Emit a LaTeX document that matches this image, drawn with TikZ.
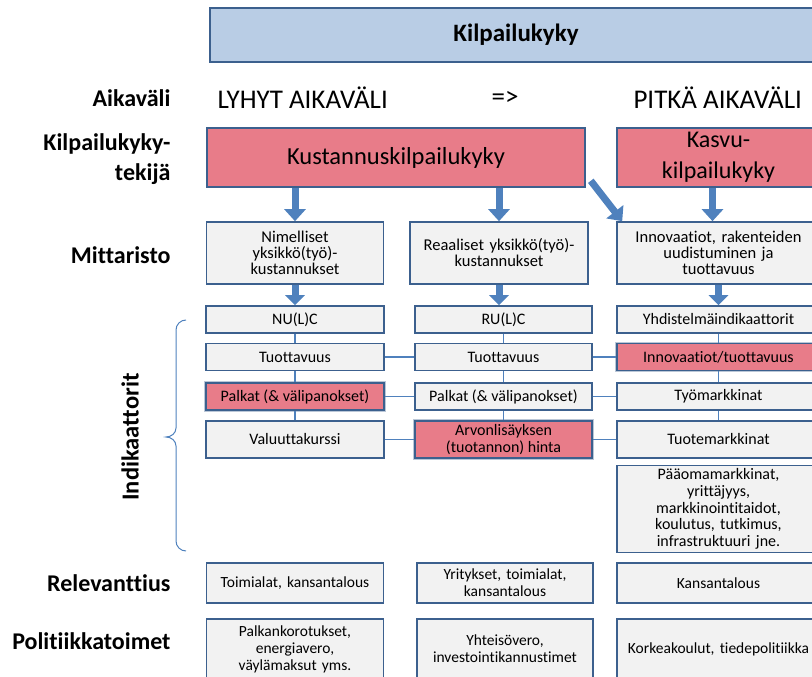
\documentclass[tikz,border=0pt]{standalone}
\usepackage{fontspec}
\setmainfont{Carlito}[Ligatures={TeX,NoCommon}]
\usetikzlibrary{arrows.meta, positioning}
\definecolor{kilpblue}{RGB}{185,205,229}
\definecolor{kilpborder}{RGB}{60,96,142}
\definecolor{kilppink}{RGB}{232,124,137}
\definecolor{kilpgray}{RGB}{242,242,242}
\definecolor{kilpline}{RGB}{79,129,189}

\begin{document}
\begin{tikzpicture}[x=1pt, y=-1pt,
        box/.style={rectangle, draw=kilpborder, line width=1.6pt, fill=kilpgray, align=center, inner sep=2pt, font=\fontsize{16}{17}\selectfont},
        hot/.style={box, fill=kilppink},
        hotrow/.style={hot, preaction={draw=kilpborder!35, line width=3.6pt}},
        small/.style={font=\fontsize{15.5}{17}\selectfont},
        rowlabel/.style={anchor=east, align=right, font=\bfseries\fontsize{24}{30}\selectfont},
        period/.style={font=\fontsize{27}{30}\selectfont},
        link/.style={draw=kilpline, line width=1.8pt},
        bigarrow/.style={draw=kilpline, line width=7pt, -{Triangle[width=21pt,length=12pt]}},
        smallarrow/.style={draw=kilpline, line width=7pt, -{Triangle[width=19pt,length=10pt]}}
    ]
        \useasboundingbox (0,0) rectangle (812,677);
        \clip (0,0) rectangle (812,677);

        % otsikko ja aikavali
        \node[box, fill=kilpblue, minimum width=612pt, minimum height=54pt, font=\bfseries\fontsize{25}{30}\selectfont] (kilp) at (516,35) {Kilpailukyky};
        \node[rowlabel] (aika) at (174,98) {Aikaväli};
        \node[period, anchor=west] (lyhyt) at (214,98) {LYHYT AIKAVÄLI};
        \node[period] (nuoli) at (505,98) {=>};
        \node[period, anchor=west] (pitka) at (630,98) {PITKÄ AIKAVÄLI};

        % tekijat
        \node[rowlabel] (tekija) at (174,159) {Kilpailukyky-\\tekijä};
        \node[hot, minimum width=378pt, minimum height=59pt, font=\fontsize{24.5}{30}\selectfont] (kust) at (396,157.5) {Kustannuskilpailukyky};
        \node[hot, minimum width=203pt, minimum height=59pt, font=\fontsize{24}{31}\selectfont] (kasvu) at (718.5,157.5) {Kasvu-\\kilpailukyky};

        % mittaristo
        \node[rowlabel] (mitt) at (174,255) {Mittaristo};
        \node[box, minimum width=177pt, minimum height=62pt, text width=170pt, font=\fontsize{16.5}{16}\selectfont] (mit1) at (295,253) {Nimelliset\\yksikkö(työ)-\\kustannukset};
        \node[box, minimum width=178pt, minimum height=62pt, text width=172pt, font=\fontsize{16.5}{16}\selectfont] (mit2) at (499,253) {Reaaliset yksikkö(työ)-\\kustannukset};
        \node[box, minimum width=203pt, minimum height=62pt, text width=198pt, font=\fontsize{16.5}{16}\selectfont] (mit3) at (718.5,253) {Innovaatiot, rakenteiden\\uudistuminen ja\\tuottavuus};

        \draw[bigarrow] (kust.south -| mit1.north) -- (mit1.north);
        \draw[bigarrow] (kust.south -| mit2.north) -- (mit2.north);
        \draw[bigarrow] ([xshift=-6pt]kasvu.south) -- ([xshift=-6pt]mit3.north);
        \draw[bigarrow] ([shift={(5pt,7pt)}]kust.south east) -- ([xshift=6pt]mit3.north west);

        % indikaattorit
        \node[box, minimum width=178pt, minimum height=27pt] (nul1) at (295,319.5) {NU(L)C};
        \node[box, minimum width=177pt, minimum height=27pt] (nul2) at (503.5,319.5) {RU(L)C};
        \node[box, minimum width=203pt, minimum height=27pt] (nul3) at (718.5,319.5) {Yhdistelmäindikaattorit};
        \draw[smallarrow] (mit1.south) -- (mit1.south |- nul1.north);
        \draw[smallarrow] (mit2.south) -- (mit2.south |- nul2.north);
        \draw[smallarrow] (mit3.south) -- (mit3.south |- nul3.north);

        \node[box, minimum width=178pt, minimum height=27pt] (tu1) at (295,357) {Tuottavuus};
        \node[box, minimum width=177pt, minimum height=27pt] (tu2) at (503.5,357) {Tuottavuus};
        \node[hotrow, minimum width=203pt, minimum height=27pt] (tu3) at (718.5,357) {Innovaatiot/tuottavuus};

        \node[hotrow, minimum width=178pt, minimum height=27pt] (pa1) at (295,396.5) {Palkat (\& välipanokset)};
        \node[box, minimum width=177pt, minimum height=27pt] (pa2) at (503.5,396.5) {Palkat (\& välipanokset)};
        \node[box, minimum width=203pt, minimum height=27pt] (pa3) at (718.5,396.5) {Työmarkkinat};

        \node[box, minimum width=178pt, minimum height=37pt] (va1) at (295,439.5) {Valuuttakurssi};
        \node[hotrow, minimum width=177pt, minimum height=37pt] (va2) at (503.5,439.5) {Arvonlisäyksen\\(tuotannon) hinta};
        \node[box, minimum width=203pt, minimum height=37pt] (va3) at (718.5,439.5) {Tuotemarkkinat};

        \node[box, minimum width=203pt, minimum height=87pt, text width=196pt, font=\fontsize{16}{16.7}\selectfont] (paa) at (718.5,509) {Pääomamarkkinat,\\yrittäjyys,\\markkinointitaidot,\\koulutus, tutkimus,\\infrastruktuuri jne.};

        \draw[link] (nul1) -- (tu1) -- (pa1) -- (va1);
        \draw[link] (nul2) -- (tu2) -- (pa2) -- (va2);
        \draw[link] (nul3) -- (tu3) -- (pa3) -- (va3);
        \draw[link] (tu1) -- (tu2) -- (tu3);
        \draw[link] (pa1) -- (pa2) -- (pa3);
        \draw[link] (va1) -- (va2) -- (va3);

        \draw[kilpline, line width=1pt] (186,320) to[out=180,in=90] (176,330) -- (176,428)
            to[out=-90,in=0] (166,437) to[out=0,in=90] (176,446) -- (176,541) to[out=-90,in=180] (186,551);
        \node[font=\bfseries\fontsize{24.5}{30}\selectfont, rotate=90] (ind) at (130,437) {Indikaattorit};

        % relevanttius ja politiikka
        \node[rowlabel] (rel) at (174,583) {Relevanttius};
        \node[box, small, minimum width=177pt, minimum height=40pt, text width=172pt] (re1) at (295,583) {Toimialat, kansantalous};
        \node[box, small, minimum width=176pt, minimum height=40pt, text width=172pt] (re2) at (505,583) {Yritykset, toimialat,\\kansantalous};
        \node[box, small, minimum width=203pt, minimum height=40pt, text width=198pt] (re3) at (718.5,583) {Kansantalous};

        \node[rowlabel] (pol) at (174,641) {Politiikkatoimet};
        \node[box, small, minimum width=177pt, minimum height=60pt, text width=172pt] (po1) at (295,649) {Palkankorotukset,\\energiavero,\\väylämaksut yms.};
        \node[box, small, minimum width=176pt, minimum height=60pt, text width=172pt] (po2) at (505,649) {Yhteisövero,\\investointikannustimet};
        \node[box, small, minimum width=203pt, minimum height=60pt, text width=198pt] (po3) at (718.5,649) {Korkeakoulut, tiedepolitiikka};
\end{tikzpicture}
\end{document}
